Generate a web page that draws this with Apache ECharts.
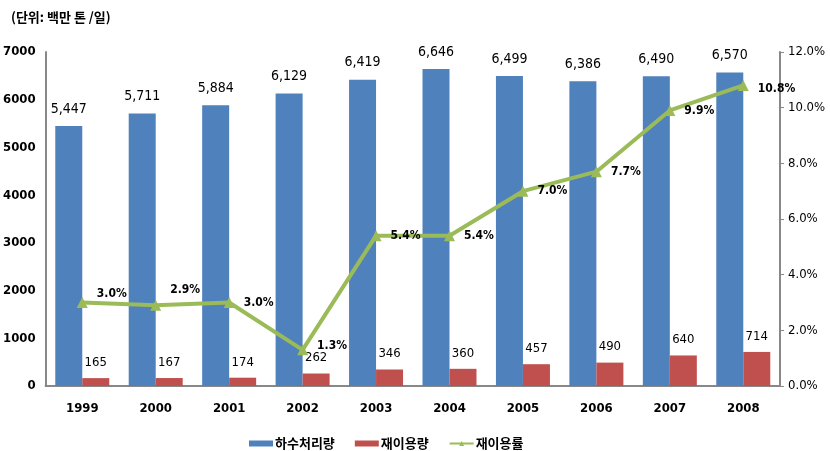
<!DOCTYPE html>
<html><head><meta charset="utf-8">
<script src="https://cdn.jsdelivr.net/npm/echarts@6/dist/echarts.min.js"></script>
<style>html,body{margin:0;padding:0;background:#fff}#c{width:830px;height:451px}</style>
</head><body><div id="c"></div>
<script>
const categories = ['1999','2000','2001','2002','2003','2004','2005','2006','2007','2008'];
const sewage = [5447,5711,5884,6129,6419,6646,6499,6386,6490,6570];
const reuse = [165,167,174,262,346,360,457,490,640,714];
const reuseRate = [3.0,2.9,3.0,1.3,5.4,5.4,7.0,7.7,9.9,10.8];
const names = ['하수처리량','재이용량','재이용률'];
const unitText = '(단위: 백만 톤 /일)';
// label placement tweaks (styling only)
const rateLabelOffsets = [[0,-9],[0,-15],[0,0],[0,-4],[0,0],[0,0],[0,0],[0,0],[0,0],[0,3]];

const numFont = "'DejaVu Sans Condensed',sans-serif";
const krFont = "'Noto Sans CJK KR',sans-serif";
const chart = echarts.init(document.getElementById('c'));
chart.setOption({
  animation:false,
  title:{text:unitText,left:6,top:6,textStyle:{fontFamily:krFont,fontSize:13,fontWeight:'bold',color:'#000'}},
  legend:{top:432,left:244,itemWidth:24,itemHeight:6,itemGap:20,
    textStyle:{fontFamily:krFont,fontSize:13,fontWeight:'bold',color:'#000',padding:[0,0,0,-3]},
    data:[{name:names[0],icon:'rect'},{name:names[1],icon:'rect'},{name:names[2]}]},
  grid:{left:43,right:50,top:52,bottom:65},
  xAxis:{type:'category',data:categories,
    axisLine:{lineStyle:{color:'#888',width:2}},axisTick:{show:false},
    axisLabel:{margin:16,fontFamily:numFont,fontSize:13,fontWeight:'bold',color:'#000'}},
  yAxis:[
    {type:'value',min:0,max:7000,interval:1000,splitLine:{show:false},
     axisLine:{show:true,lineStyle:{color:'#888',width:2}},axisTick:{show:false},
     axisLabel:{margin:10,fontFamily:numFont,fontSize:13,fontWeight:'bold',color:'#000',formatter:v=>String(v)}},
    {type:'value',min:0,max:12,interval:2,splitLine:{show:false},position:'right',
     axisLine:{show:true,lineStyle:{color:'#888',width:2}},axisTick:{show:true,length:4,lineStyle:{color:'#888'}},
     axisLabel:{margin:8,fontFamily:numFont,fontSize:13,color:'#000',formatter:v=>v.toFixed(1)+'%'}}
  ],
  series:[
    {name:names[0],type:'bar',data:sewage,barWidth:27,barGap:'0%',itemStyle:{color:'#4f81bd'},
     label:{show:true,position:'top',distance:10,fontFamily:numFont,fontSize:14,color:'#000',
       formatter:p=>p.value.toLocaleString('en-US')}},
    {name:names[1],type:'bar',data:reuse,barWidth:27,itemStyle:{color:'#c0504d'},
     label:{show:true,position:'top',distance:9,fontFamily:numFont,fontSize:13,color:'#000'}},
    {name:names[2],type:'line',yAxisIndex:1,
     data:reuseRate.map((v,i)=>({value:v,label:{offset:rateLabelOffsets[i]}})),
     symbol:'triangle',symbolSize:11,
     lineStyle:{color:'#9bbb59',width:4},itemStyle:{color:'#9bbb59'},
     label:{show:true,position:'right',distance:9,fontFamily:numFont,fontSize:12,fontWeight:'bold',color:'#000',
       formatter:p=>p.value.toFixed(1)+'%'}}
  ]
});
</script></body></html>
